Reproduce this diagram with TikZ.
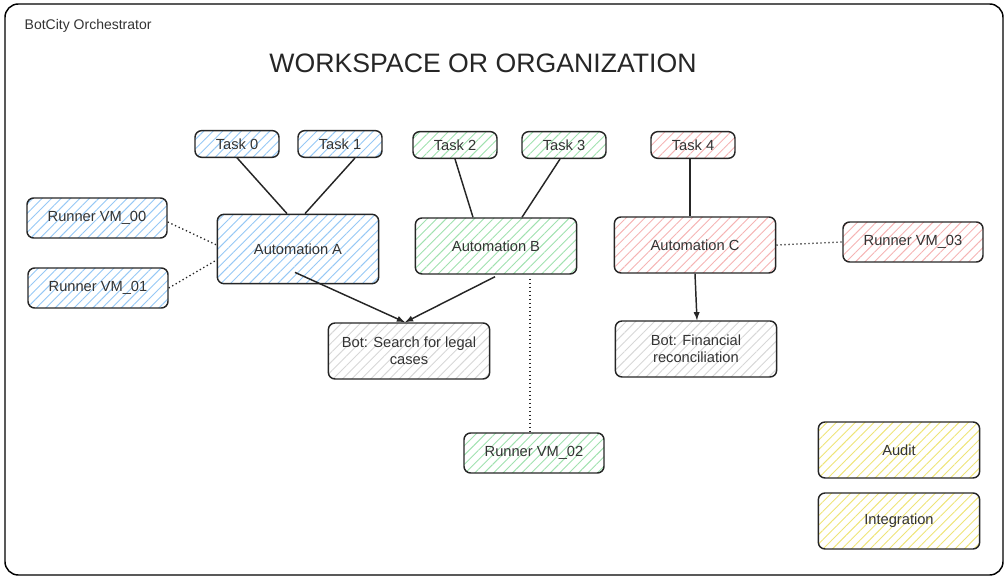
\documentclass[tikz,border=0pt]{standalone}
\usepackage{fontspec}
\setmainfont{Liberation Sans}
\usetikzlibrary{patterns.meta,calc}
\definecolor{hblue}{RGB}{150,200,245}
\definecolor{hgreen}{RGB}{160,225,175}
\definecolor{hred}{RGB}{245,180,180}
\definecolor{hgrey}{RGB}{215,215,215}
\definecolor{hyellow}{RGB}{238,228,120}
\tikzset{
  box/.style={draw=black!85,line width=1.1pt,rounded corners=5pt,align=center,font=\fontsize{11}{12.5}\selectfont,text=black!80,inner sep=0pt},
  task/.style={box,minimum width=63pt,minimum height=20pt},
  runner/.style={box,minimum width=105pt,minimum height=30pt},
  auto/.style={box,minimum width=121pt,minimum height=42pt},
  hatch/.style={pattern={Lines[angle=45,distance=5pt,line width=0.7pt]},pattern color=#1},
  link/.style={line width=1.1pt,black!85},
  dots/.style={line width=1pt,dotted,black!85},
}
\begin{document}
\begin{tikzpicture}[x=0.75pt,y=0.75pt,yscale=-1,xscale=1]
\useasboundingbox (0,0) rectangle (1008,580);
%frame
\draw [line width=1.1pt,rounded corners=10pt] (5,4) rectangle (1003,575);
\node [anchor=west,font=\fontsize{10.5}{12}\selectfont,text=black!80] (orch) at (20,26) {BotCity Orchestrator};
\node [font=\fontsize{20}{22}\selectfont,text=black!85] (ws) at (483,63) {WORKSPACE OR ORGANIZATION};

%tasks
\node [task,hatch=hblue] (t0) at (237,144) {Task 0};
\node [task,hatch=hblue] (t1) at (340,144) {Task 1};
\node [task,hatch=hgreen] (t2) at (455,145) {Task 2};
\node [task,hatch=hgreen] (t3) at (564,145) {Task 3};
\node [task,hatch=hred] (t4) at (693,145) {Task 4};

%automations
\node [auto,minimum height=52pt,hatch=hblue] (a) at (298,249) {Automation A};
\node [auto,hatch=hgreen] (b) at (496,246) {Automation B};
\node [auto,hatch=hred] (c) at (695,245) {Automation C};

%runners
\node [runner,hatch=hblue] (r0) at (97,218) {Runner VM\_00};
\node [runner,hatch=hblue] (r1) at (98,288) {Runner VM\_01};
\node [runner,hatch=hgreen] (r2) at (534,453) {Runner VM\_02};
\node [runner,hatch=hred] (r3) at (913,242) {Runner VM\_03};

%bots
\node [auto,hatch=hgrey] (bot1) at (409,351) {Bot: Search for legal\\cases};
\node [auto,hatch=hgrey] (bot2) at (696,349) {Bot: Financial\\reconciliation};

\node [auto,hatch=hyellow] (audit) at (899,450) {Audit};
\node [auto,hatch=hyellow] (integ) at (899,521) {Integration};

%connectors
\draw [link] ($(t0.south)+(0,0)$) -- ($(a.north)+(-11,0)$);
\draw [link] ($(t1.south)+(15,0)$) -- ($(a.north)+(7,0)$);
\draw [link] (t2.south) -- ($(b.north)+(-23,0)$);
\draw [link] ($(t3.south)+(-4,0)$) -- ($(b.north)+(26,0)$);
\draw [link] ($(t4.south)+(-3,0)$) -- ($(c.north)+(-5,0)$);
\draw [link,-latex] ($(a.south)+(-3,-12)$) -- ($(bot1.north)+(-4,0)$);
\draw [link,-latex] ($(b.south)+(-1,2)$) -- ($(bot1.north)+(-4,0)$);
\draw [link,-latex] (c.south) -- ($(bot2.north)+(1,0)$);
\draw [dots] ($(r0.east)+(0,4)$) -- ($(a.west)+(0,-4)$);
\draw [dots] (r1.east) -- ($(a.west)+(0,11)$);
\draw [dots] (c.east) -- (r3.west);
\draw [dots] ($(b.south)+(34,4)$) -- ($(r2.north)+(-4,0)$);
\end{tikzpicture}
\end{document}
